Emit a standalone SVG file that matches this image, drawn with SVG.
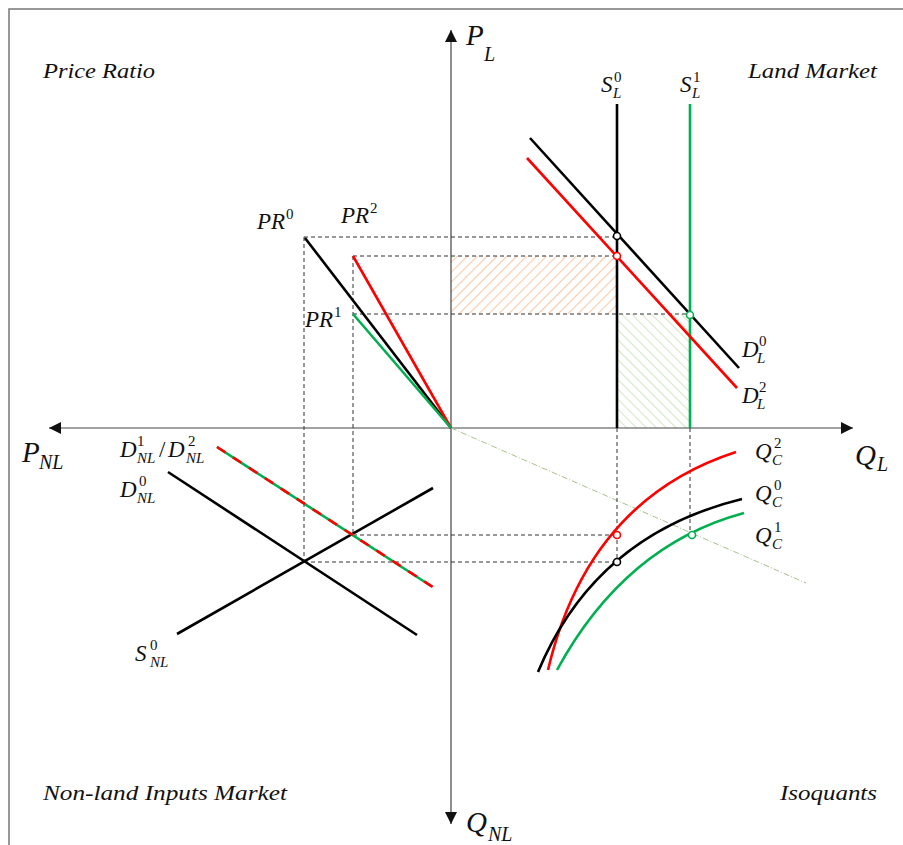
<svg xmlns="http://www.w3.org/2000/svg" width="903" height="845" viewBox="0 0 903 845">
<defs>
<style>
.ax{stroke:#444;stroke-width:1.2;fill:none}
.dash{stroke:#333;stroke-width:1;stroke-dasharray:4 3;fill:none}
.k{stroke:#000;stroke-width:2.6;fill:none}
.r{stroke:#ff0000;stroke-width:2.6;fill:none}
.g{stroke:#00b050;stroke-width:2.6;fill:none}
.title{font-family:"Liberation Serif",serif;font-style:italic;font-size:22px;fill:#111}
.m{font-family:"Liberation Serif",serif;font-style:italic;fill:#111}
.n{font-family:"Liberation Serif",serif;fill:#111}
.big{font-size:29px}
.sb{font-size:20px}
.lb{font-size:23px}
.sm{font-size:15px}
.pt{fill:#fff;stroke-width:1.6}
</style>
<marker id="ah" viewBox="0 0 10 10" refX="10" refY="5" markerWidth="12" markerHeight="12" markerUnits="userSpaceOnUse" orient="auto">
<path d="M0,0 L10,5 L0,10 z" fill="#111"/>
</marker>
<pattern id="hatchO" width="7" height="7" patternUnits="userSpaceOnUse" patternTransform="rotate(45)">
<line x1="0" y1="0" x2="0" y2="7" stroke="#f8cbad" stroke-width="2.3"/>
</pattern>
<pattern id="hatchG" width="7" height="7" patternUnits="userSpaceOnUse" patternTransform="rotate(-45)">
<line x1="0" y1="0" x2="0" y2="7" stroke="#d5e8c8" stroke-width="2.3"/>
</pattern>
</defs>
<rect x="9" y="9" width="910" height="860" fill="#fff" stroke="#777" stroke-width="1.5"/>

<g id="hatch-areas">
<rect x="451" y="256" width="166" height="58" fill="url(#hatchO)"/>
<rect x="617" y="314" width="73" height="114" fill="url(#hatchG)"/>
</g>

<g id="connectors">
<line class="ax" x1="451" y1="428" x2="451" y2="30" marker-end="url(#ah)"/>
<line class="ax" x1="451" y1="428" x2="451" y2="824" marker-end="url(#ah)"/>
<line class="ax" x1="451" y1="428" x2="49" y2="428" marker-end="url(#ah)"/>
<line class="ax" x1="451" y1="428" x2="853" y2="428" marker-end="url(#ah)"/>
<line x1="451" y1="428" x2="806" y2="583" stroke="#a9c08c" stroke-width="1" stroke-dasharray="6 2 1 2"/>
<path class="dash" d="M304,237 H617 M353,256 H617 M353,314 H690 M304,237 V562 M353,256 V535 M353,535 H617 M304,562 H617 M617,428 V562 M690,428 V535"/>
</g>

<g id="price-ratio">
<line class="k" x1="305" y1="238" x2="451" y2="428"/>
<line class="r" x1="353" y1="256" x2="451" y2="428"/>
<line class="g" x1="353" y1="314" x2="451" y2="428"/>
</g>

<g id="land-market">
<line class="k" x1="617" y1="104" x2="617" y2="428"/>
<line class="g" x1="690" y1="104" x2="690" y2="428"/>
<line class="k" x1="530" y1="138" x2="739" y2="368"/>
<line class="r" x1="527" y1="158" x2="737" y2="388"/>
<circle class="pt" cx="617" cy="236" r="3.5" stroke="#000"/>
<circle class="pt" cx="617" cy="256" r="3.5" stroke="#ff0000"/>
<circle class="pt" cx="690" cy="315" r="3.5" stroke="#00b050"/>
</g>

<g id="isoquants">
<path class="r" d="M548,670 Q588,500 736,452"/>
<path class="k" d="M538,672 Q595,535 742,499"/>
<path class="g" d="M557,670 Q625,545 744,513"/>
<circle class="pt" cx="617" cy="535" r="3.5" stroke="#ff0000"/>
<circle class="pt" cx="617" cy="562" r="3.5" stroke="#000"/>
<circle class="pt" cx="692" cy="535" r="3.5" stroke="#00b050"/>
</g>

<g id="nonland-market">
<line class="k" x1="168" y1="472" x2="417" y2="635"/>
<line class="k" x1="177" y1="634" x2="433" y2="488"/>
<line class="g" x1="217" y1="447" x2="431" y2="586"/>
<line class="r" x1="217" y1="447" x2="439" y2="591" stroke-dasharray="10 9"/>
</g>

<g id="titles">
<text class="title" x="43" y="78" textLength="112" lengthAdjust="spacingAndGlyphs">Price Ratio</text>
<text class="title" x="748" y="78" textLength="129" lengthAdjust="spacingAndGlyphs">Land Market</text>
<text class="title" x="43" y="800" textLength="244" lengthAdjust="spacingAndGlyphs">Non-land Inputs Market</text>
<text class="title" x="780" y="800" textLength="97" lengthAdjust="spacingAndGlyphs">Isoquants</text>
</g>

<g id="axis-labels">
<text class="m big" x="466" y="45">P</text><text class="m sb" x="484" y="61">L</text>
<text class="m big" x="466" y="832">Q</text><text class="m sb" x="488" y="841">NL</text>
<text class="m big" x="22" y="462">P</text><text class="m sb" x="39" y="469">NL</text>
<text class="m big" x="855" y="465">Q</text><text class="m sb" x="877" y="471">L</text>
</g>

<g id="curve-labels">
<text class="m lb" x="257" y="229">PR</text><text class="n sm" x="286" y="219">0</text>
<text class="m lb" x="341" y="223">PR</text><text class="n sm" x="370" y="213">2</text>
<text class="m lb" x="305" y="327">PR</text><text class="n sm" x="334" y="317">1</text>

<text class="m lb" x="601" y="92">S</text><text class="n sm" x="614" y="82">0</text><text class="m sm" x="613" y="98">L</text>
<text class="m lb" x="680" y="92">S</text><text class="n sm" x="693" y="82">1</text><text class="m sm" x="692" y="98">L</text>

<text class="m lb" x="742" y="357">D</text><text class="n sm" x="759" y="346">0</text><text class="m sm" x="757" y="363">L</text>
<text class="m lb" x="742" y="403">D</text><text class="n sm" x="759" y="392">2</text><text class="m sm" x="757" y="409">L</text>

<text class="m lb" x="755" y="459">Q</text><text class="n sm" x="774" y="448">2</text><text class="m sm" x="772" y="465">C</text>
<text class="m lb" x="755" y="501">Q</text><text class="n sm" x="774" y="490">0</text><text class="m sm" x="772" y="507">C</text>
<text class="m lb" x="755" y="543">Q</text><text class="n sm" x="774" y="532">1</text><text class="m sm" x="772" y="549">C</text>

<text class="m lb" x="120" y="457">D</text><text class="n sm" x="137" y="446">1</text><text class="m sm" x="137" y="463">NL</text>
<text class="n lb" x="159" y="457">/</text>
<text class="m lb" x="168" y="457">D</text><text class="n sm" x="188" y="446">2</text><text class="m sm" x="186" y="463">NL</text>
<text class="m lb" x="120" y="497">D</text><text class="n sm" x="139" y="486">0</text><text class="m sm" x="137" y="503">NL</text>
<text class="m lb" x="135" y="661">S</text><text class="n sm" x="150" y="650">0</text><text class="m sm" x="150" y="667">NL</text>
</g>
</svg>
